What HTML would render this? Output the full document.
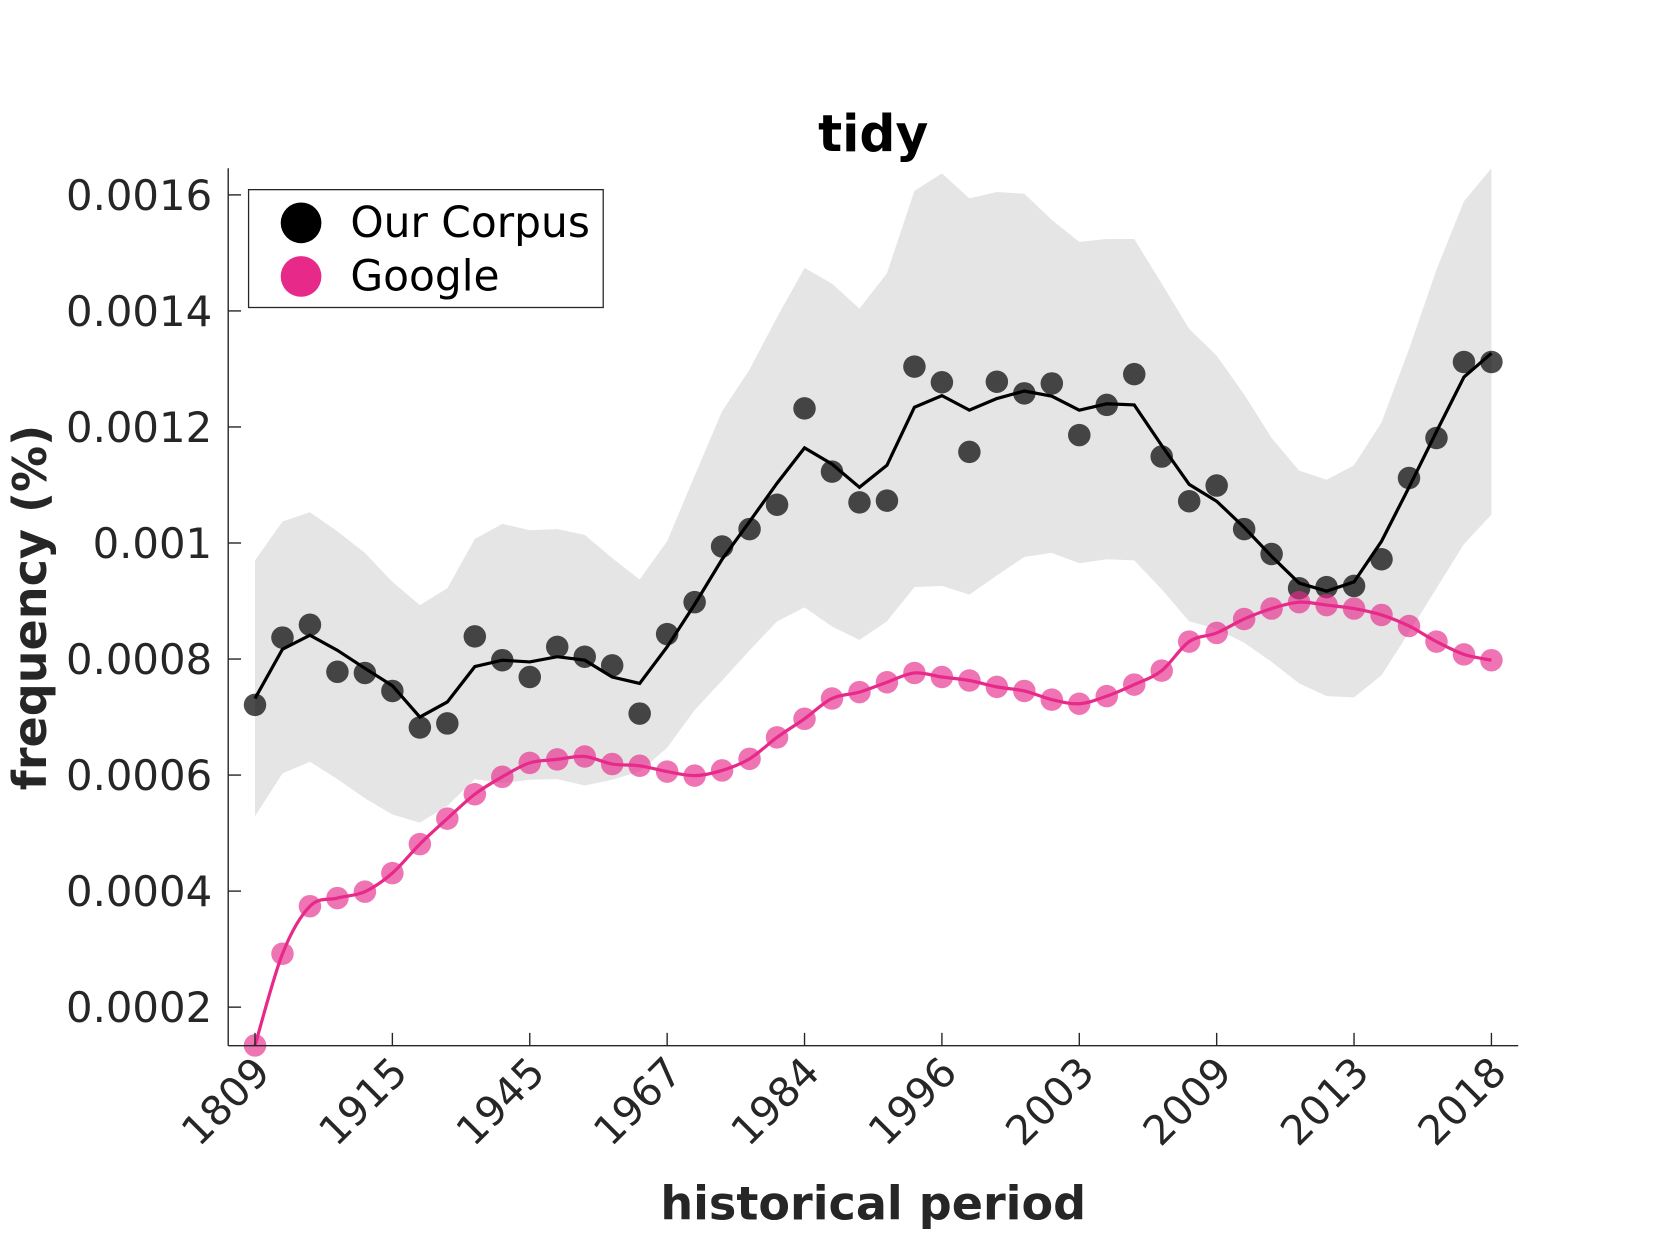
<!DOCTYPE html>
<html><head><meta charset="utf-8"><style>
html,body{margin:0;padding:0;background:#fff;}
svg{display:block;font-family:"DejaVu Sans","Liberation Sans",sans-serif;}
</style></head><body>
<svg id="chart" width="1680" height="1260" viewBox="0 0 1568 1176" xmlns="http://www.w3.org/2000/svg">
<rect width="1568" height="1176" fill="#fff"/>
<g id="band"></g>
<g id="lines"></g>
<g id="dots"></g>
<g id="axes"></g>
<text x="815" y="141" text-anchor="middle" font-size="47" font-weight="bold" fill="#000">tidy</text>
<text x="815" y="1138" text-anchor="middle" font-size="43" font-weight="bold" fill="#262626">historical period</text>
<text transform="translate(43,567) rotate(-90)" text-anchor="middle" font-size="43" font-weight="bold" fill="#262626">frequency (%)</text>
<g>
<rect x="232" y="177" width="331" height="110" fill="#fff" stroke="#262626" stroke-width="1.2"/>
<circle cx="281" cy="208" r="19" fill="#000"/>
<text x="327" y="221" font-size="39.5" fill="#000">Our Corpus</text>
<circle cx="281" cy="258" r="19" fill="#e7298a"/>
<text x="327" y="271" font-size="39.5" fill="#000">Google</text>
</g>
</svg>
<script>
const xTickLabels = ["1809","1915","1945","1967","1984","1996","2003","2009","2013","2018"];
const yTicks = [0.0002,0.0004,0.0006,0.0008,0.001,0.0012,0.0014,0.0016];
const yTickLabels = ["0.0002","0.0004","0.0006","0.0008","0.001","0.0012","0.0014","0.0016"];
const corpusDots = [7.21,8.37,8.59,7.78,7.76,7.45,6.82,6.89,8.39,7.98,7.69,8.21,8.04,7.89,7.06,8.43,8.98,9.94,10.24,10.66,12.32,11.23,10.70,10.73,13.04,12.77,11.57,12.78,12.58,12.75,11.86,12.38,12.91,11.49,10.72,10.99,10.24,9.81,9.22,9.24,9.26,9.72,11.12,11.81,13.12,13.12];
const corpusLine = [7.32,8.17,8.41,8.15,7.84,7.54,7.00,7.26,7.87,7.98,7.95,8.04,7.98,7.69,7.58,8.21,8.94,9.72,10.37,11.03,11.64,11.36,10.96,11.34,12.34,12.54,12.29,12.49,12.62,12.53,12.29,12.40,12.38,11.68,11.01,10.72,10.27,9.77,9.31,9.17,9.33,10.03,10.96,11.92,12.86,13.27];
const bandUpper = [9.70,10.37,10.53,10.20,9.83,9.33,8.93,9.22,10.07,10.33,10.22,10.24,10.14,9.74,9.37,10.03,11.16,12.27,12.99,13.89,14.74,14.47,14.04,14.65,16.07,16.37,15.94,16.05,16.02,15.57,15.19,15.24,15.24,14.47,13.69,13.23,12.56,11.81,11.25,11.09,11.34,12.08,13.34,14.71,15.89,16.46];
const bandLower = [5.29,6.03,6.23,5.93,5.60,5.32,5.18,5.47,5.93,5.86,5.92,5.93,5.82,5.92,6.06,6.47,7.12,7.63,8.15,8.65,8.89,8.56,8.33,8.65,9.24,9.26,9.11,9.44,9.76,9.83,9.65,9.72,9.70,9.20,8.65,8.52,8.28,7.95,7.58,7.36,7.34,7.72,8.46,9.22,9.98,10.49];
const googleDots = [1.34,2.92,3.74,3.88,3.99,4.31,4.81,5.25,5.67,5.97,6.21,6.27,6.32,6.19,6.16,6.06,5.99,6.08,6.28,6.65,6.97,7.32,7.43,7.60,7.76,7.69,7.63,7.52,7.45,7.30,7.23,7.36,7.56,7.80,8.30,8.45,8.69,8.87,8.98,8.93,8.87,8.76,8.57,8.30,8.08,7.98];
const UNIT = 1e-4;
const NS = "http://www.w3.org/2000/svg";
const X0 = 238, DX = (1392 - 238) / 45;
function xs(i){ return X0 + DX * i; }
function ys(v){ return 940 - (v - 0.0002) / 0.0002 * 108.3; }
function mk(tag, attrs, parent){
  const e = document.createElementNS(NS, tag);
  for (const k in attrs) e.setAttribute(k, attrs[k]);
  parent.appendChild(e); return e;
}
const band = document.getElementById('band');
let d = "";
bandUpper.forEach((v,i)=>{ d += (i?"L":"M") + xs(i) + "," + ys(v*UNIT); });
for (let i = bandLower.length-1; i >= 0; i--) d += "L" + xs(i) + "," + ys(bandLower[i]*UNIT);
const bp = mk('path', {d: d + "Z", fill: "#e5e5e5"}, band);



const lines = document.getElementById('lines');
const gPts = googleDots.map((v,i)=>[xs(i), ys(v*UNIT)]);
let gd = "M" + gPts[0][0] + "," + gPts[0][1];
for (let i = 0; i < gPts.length-1; i++){
  const p0 = gPts[Math.max(i-1,0)], p1 = gPts[i], p2 = gPts[i+1], p3 = gPts[Math.min(i+2,gPts.length-1)];
  const c1 = [p1[0]+(p2[0]-p0[0])/6, p1[1]+(p2[1]-p0[1])/6];
  const c2 = [p2[0]-(p3[0]-p1[0])/6, p2[1]-(p3[1]-p1[1])/6];
  gd += "C" + c1 + " " + c2 + " " + p2;
}
const gl = mk('path', {d: gd, fill: "none", stroke: "#e7298a", "stroke-width": 3}, lines);


const cl = mk('polyline', {points: corpusLine.map((v,i)=>xs(i)+","+ys(v*UNIT)).join(" "), fill: "none", stroke: "#000", "stroke-width": 3}, lines);



const dots = document.getElementById('dots');
corpusDots.forEach((v,i)=>{
  const c = mk('circle', {cx: xs(i), cy: ys(v*UNIT), r: 10.5, fill: "#000", "fill-opacity": 0.7}, dots);
  
  
});
googleDots.forEach((v,i)=>{
  const c = mk('circle', {cx: xs(i), cy: ys(v*UNIT), r: 10.5, fill: "#e7298a", "fill-opacity": 0.65}, dots);
  
  
});

const axes = document.getElementById('axes');
mk('line', {x1:213, y1:157, x2:213, y2:976, stroke:"#262626", "stroke-width":1.3}, axes);
mk('line', {x1:213, y1:976, x2:1417, y2:976, stroke:"#262626", "stroke-width":1.3}, axes);
yTicks.forEach((v,i)=>{
  const y = ys(v);
  mk('line', {x1:213, y1:y, x2:225, y2:y, stroke:"#262626", "stroke-width":1.3}, axes);
  const t = mk('text', {x:198, y:y+14, "text-anchor":"end", "font-size":39, fill:"#262626"}, axes);
  t.textContent = yTickLabels[i];
  
  
});
xTickLabels.forEach((lab,k)=>{
  const x = xs(k*5);
  mk('line', {x1:x, y1:976, x2:x, y2:964, stroke:"#262626", "stroke-width":1.3}, axes);
  const t = mk('text', {transform:"translate("+(x+16)+",1003) rotate(-45)", "text-anchor":"end", "font-size":38, fill:"#262626"}, axes);
  t.textContent = lab;
  
  
});
</script>
</body></html>
